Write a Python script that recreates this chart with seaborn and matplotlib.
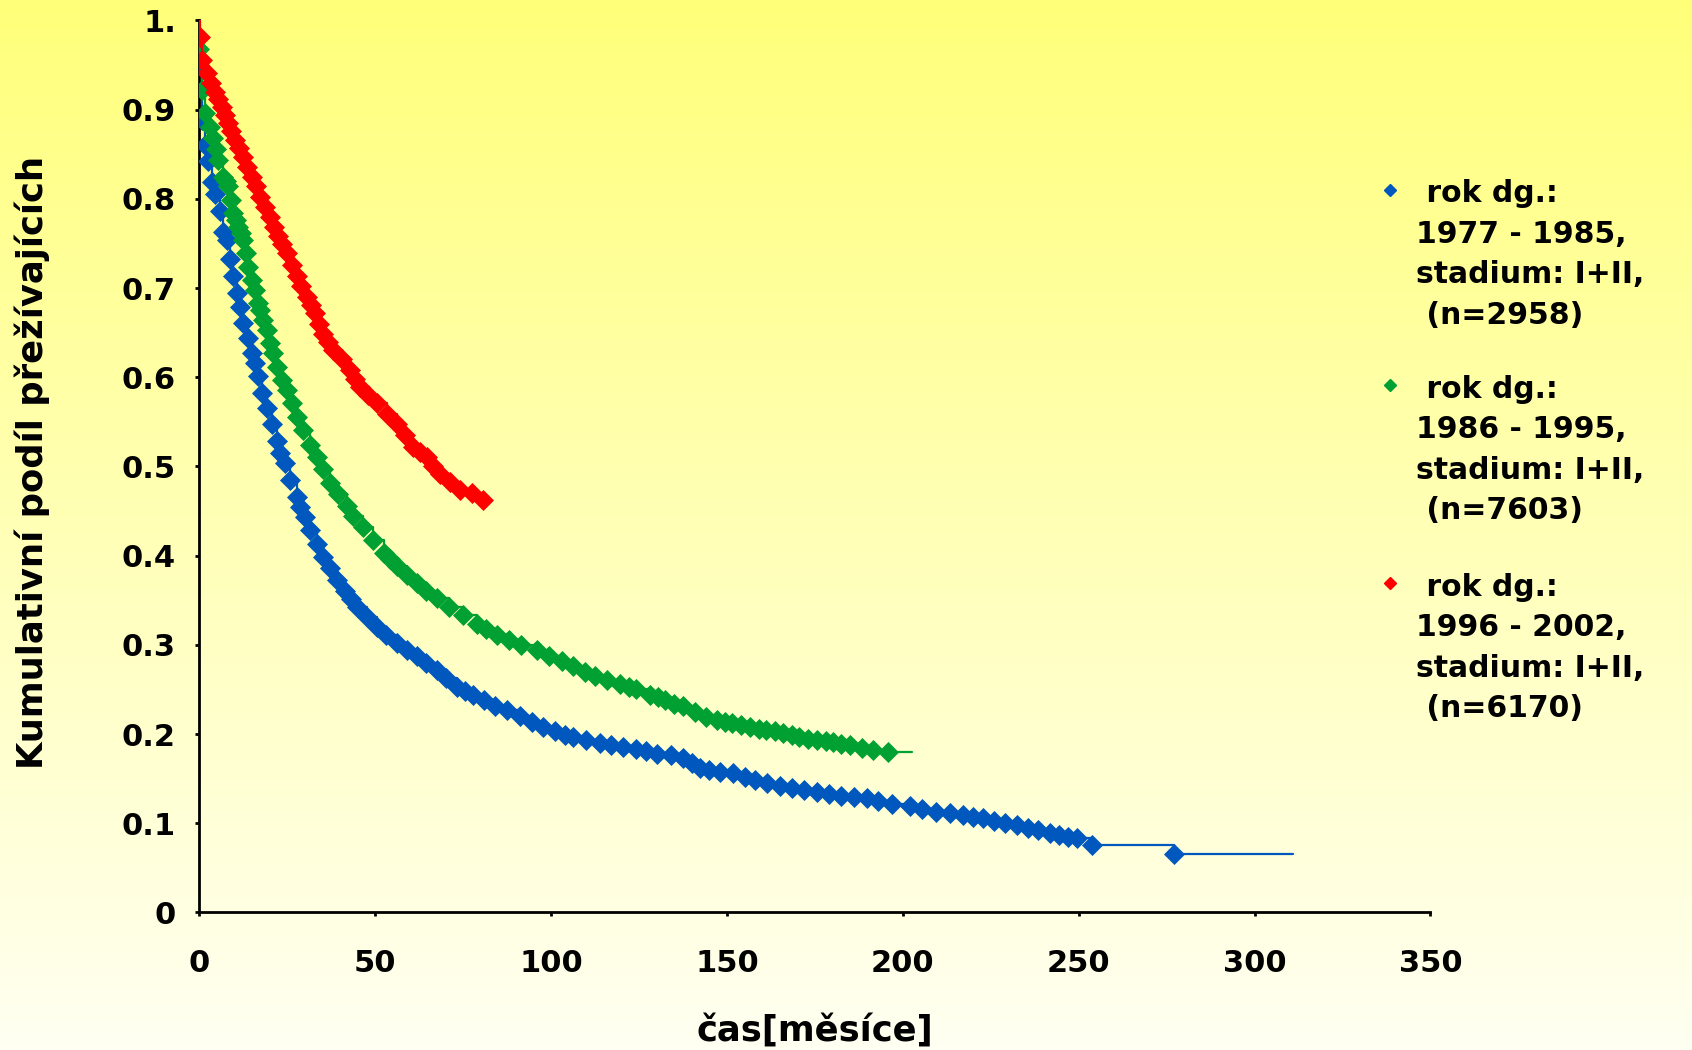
import numpy as np
import matplotlib
matplotlib.use("Agg")
import matplotlib.pyplot as plt
import seaborn as sns

# --- data: time [months], cumulative survival share ---
blue_t = [0.0, 0.6, 1.6, 2.5, 3.5, 4.4, 5.8, 6.8, 7.7, 8.7, 9.6, 10.6, 11.5, 12.5,
          13.9, 14.8, 15.8, 16.7, 17.7, 19.1, 20.5, 21.9, 22.9, 24.3, 25.7, 27.6,
          28.6, 30.0, 31.4, 33.3, 35.2, 37.0, 39.0, 41.5, 43.1, 44.7, 47.5, 50.4, 53.0,
          56.1, 59.0, 61.8, 64.5, 67.4, 70.0, 73.1, 75.5, 77.9, 81.0, 84.0, 87.3,
          91.0, 94.5, 97.8, 101.0, 104.0, 106.3, 110.0, 114.0, 117.0, 120.5, 124.0,
          127.0, 130.0, 134.0, 137.6, 140.0, 142.3, 145.0, 148.0, 151.8, 155.0,
          158.0, 161.3, 165.0, 168.5, 172.0, 175.5, 179.0, 182.5, 186.0, 189.7,
          193.0, 197.0, 202.0, 205.5, 209.5, 213.4, 217.0, 220.0, 222.9, 226.0,
          229.0, 232.4, 235.5, 238.5, 241.8, 244.5, 247.0, 249.4, 253.7, 277.1]
blue_s = [0.950, 0.888, 0.860, 0.842, 0.819, 0.806, 0.786, 0.763, 0.754, 0.733, 0.713,
          0.694, 0.679, 0.661, 0.644, 0.627, 0.616, 0.601, 0.582, 0.565, 0.548, 0.528,
          0.515, 0.504, 0.485, 0.466, 0.455, 0.443, 0.429, 0.413, 0.399, 0.386, 0.373,
          0.360, 0.351, 0.343, 0.331, 0.320, 0.311, 0.302, 0.294, 0.287, 0.280, 0.272, 0.263,
          0.253, 0.248, 0.244, 0.238, 0.232, 0.227, 0.220, 0.214, 0.208, 0.203, 0.199,
          0.197, 0.193, 0.190, 0.188, 0.186, 0.183, 0.181, 0.178, 0.176, 0.173, 0.168,
          0.162, 0.160, 0.158, 0.156, 0.152, 0.148, 0.145, 0.142, 0.139, 0.137, 0.135,
          0.133, 0.131, 0.129, 0.128, 0.125, 0.122, 0.119, 0.116, 0.113, 0.111, 0.109,
          0.107, 0.106, 0.103, 0.100, 0.098, 0.095, 0.092, 0.089, 0.087, 0.085, 0.083,
          0.076, 0.0656]
blue_end = 310.8

green_t = [0.0, 0.6, 1.6, 3.0, 3.9, 4.6, 5.3, 6.8, 7.5, 8.2, 8.9, 9.6, 10.3, 11.0, 11.7,
           12.5, 13.2, 13.9, 15.0, 15.8,
           16.7, 17.2, 18.1, 19.1, 20.0, 21.0, 22.0, 23.4, 24.8, 26.2, 27.6, 29.5,
           31.4, 33.3, 35.2, 37.1, 39.3, 41.9, 43.7, 46.5, 49.4, 52.5, 54.3, 56.1, 59.0,
           61.8, 64.5, 67.4, 71.0, 75.0, 79.0, 81.5, 84.5, 88.0, 91.5, 95.9, 99.5,
           103.0, 106.3, 109.5, 112.5, 115.8, 119.5, 122.0, 124.0, 128.1, 130.5,
           132.5, 135.0, 137.6, 141.0, 144.0, 147.1, 149.5, 151.5, 154.0, 156.5,
           159.0, 161.0, 163.5, 166.0, 168.5, 170.5, 173.0, 175.5, 178.0, 180.0,
           182.5, 185.0, 188.5, 191.6, 195.9]
green_s = [0.968, 0.922, 0.896, 0.881, 0.868, 0.856, 0.844, 0.825, 0.820, 0.814, 0.799,
           0.784, 0.776, 0.769, 0.762, 0.754, 0.739,
           0.724, 0.709, 0.698, 0.683, 0.675, 0.664, 0.653, 0.638, 0.627, 0.612, 0.597,
           0.586, 0.571, 0.556, 0.541, 0.524, 0.511, 0.497, 0.482, 0.469, 0.456, 0.445,
           0.432, 0.418, 0.403, 0.396, 0.388, 0.378, 0.369, 0.360, 0.352, 0.343, 0.334, 0.323,
           0.318, 0.311, 0.305, 0.300, 0.294, 0.288, 0.282, 0.276, 0.270, 0.265, 0.261,
           0.256, 0.253, 0.250, 0.244, 0.241, 0.238, 0.234, 0.231, 0.225, 0.219, 0.216,
           0.214, 0.212, 0.210, 0.208, 0.206, 0.205, 0.203, 0.201, 0.199, 0.197, 0.195,
           0.193, 0.192, 0.191, 0.189, 0.188, 0.184, 0.182, 0.180]
green_end = 202.5

red_t = [0.1, 0.6, 2.0, 3.2, 4.4, 5.3, 6.3, 7.2, 8.2, 9.1, 10.1, 11.3, 12.5, 13.6, 14.8,
         16.0, 17.2, 18.6, 20.0, 21.2, 22.4, 23.6, 24.8, 26.2, 27.6, 29.0, 30.5, 31.6,
         32.8, 34.0, 35.2, 36.6, 38.0, 40.4, 42.8, 44.2, 45.6, 48.0, 50.4, 53.2, 56.1,
         58.5, 60.8, 62.7, 64.6, 66.5, 68.4, 71.2, 74.1, 77.4, 80.7]
red_s = [0.981, 0.956, 0.941, 0.930, 0.920, 0.912, 0.903, 0.894, 0.885, 0.876, 0.866,
         0.857, 0.847, 0.836, 0.825, 0.814, 0.802, 0.791, 0.780, 0.769, 0.758, 0.749,
         0.739, 0.726, 0.713, 0.702, 0.690, 0.681, 0.672, 0.660, 0.649, 0.640, 0.631,
         0.620, 0.608, 0.598, 0.589, 0.580, 0.571, 0.559, 0.548, 0.535, 0.522, 0.516,
         0.511, 0.501, 0.492, 0.483, 0.474, 0.470, 0.462]
red_end = 80.7

labels = [" rok dg.:\n1977 - 1985,\nstadium: I+II,\n (n=2958)",
          " rok dg.:\n1986 - 1995,\nstadium: I+II,\n (n=7603)",
          " rok dg.:\n1996 - 2002,\nstadium: I+II,\n (n=6170)"]
colors = ["#0058BE", "#00A032", "#FF0000"]

x_ticks = [0, 50, 100, 150, 200, 250, 300, 350]
y_ticks = [0, 0.1, 0.2, 0.3, 0.4, 0.5, 0.6, 0.7, 0.8, 0.9, 1.0]
y_tick_labels = ["0", "0.1", "0.2", "0.3", "0.4", "0.5", "0.6", "0.7", "0.8", "0.9", "1."]

sns.set_theme(style="white")
plt.rcParams['font.family'] = ['DejaVu Sans']
plt.rcParams['font.weight'] = 'bold'
plt.rcParams['text.color'] = 'black'
plt.rcParams['axes.labelcolor'] = 'black'

fig = plt.figure(figsize=(16.92, 10.5), dpi=100)

# yellow -> white background gradient
bg = fig.add_axes([0, 0, 1, 1])
top = np.array([255, 255, 122]) / 255
bottom = np.array([255, 255, 242]) / 255
k = np.linspace(0, 1, 256)[:, None, None]
bg.imshow(top + (bottom - top) * k, aspect='auto', extent=[0, 1, 0, 1])
bg.axis('off')

ax = fig.add_axes([0.1179, 0.131, 0.7275, 0.8495])
ax.set_facecolor('none')

series = [(blue_t, blue_s, blue_end), (green_t, green_s, green_end), (red_t, red_s, red_end)]
for i, (t, s, t_end) in enumerate(series):
    line_t = [0.0] + t + [t_end]
    line_s = [1.0] + s + [s[-1]]
    sns.lineplot(x=line_t, y=line_s, ax=ax, color=colors[i], lw=1.6,
                 drawstyle='steps-post', estimator=None, sort=False, zorder=2 + 2 * i)
    sns.scatterplot(x=t, y=s, ax=ax, color=colors[i], marker='D', s=115,
                    linewidth=0, zorder=3 + 2 * i)

# legend drawn by hand: marker beside the first line of each block
leg_y = [0.810, 0.591, 0.369]
for i in range(3):
    ax.plot([0.967], [leg_y[i]], marker='D', ms=6, color=colors[i], lw=0,
            transform=ax.transAxes, clip_on=False)
    ax.text(0.988, leg_y[i] + 0.012, labels[i], transform=ax.transAxes, ha='left', va='top',
            fontsize=21.5, fontweight='bold', linespacing=1.5, color='black')

ax.set_xlim(0, 350)
ax.set_ylim(0, 1)
ax.set_xticks(x_ticks)
ax.set_yticks(y_ticks, labels=y_tick_labels)
ax.tick_params(axis='both', direction='out', length=3, width=2, colors='black',
               labelsize=22, bottom=True, left=True)
ax.tick_params(axis='x', pad=23)
ax.tick_params(axis='y', pad=14)

sns.despine(ax=ax)
for side in ['left', 'bottom']:
    ax.spines[side].set_color('black')
    ax.spines[side].set_linewidth(2)

ax.set_xlabel("čas[měsíce]", fontsize=25.5, fontweight='bold', color='black')
ax.set_ylabel("Kumulativní podíl přežívajících", fontsize=25.5, fontweight='bold', color='black')
ax.xaxis.set_label_coords(0.5, -0.132)
ax.xaxis.label.set_va('center')
ax.yaxis.set_label_coords(-0.136, 0.504)
ax.yaxis.label.set_va('center')

fig.savefig("out.png", dpi=100)
